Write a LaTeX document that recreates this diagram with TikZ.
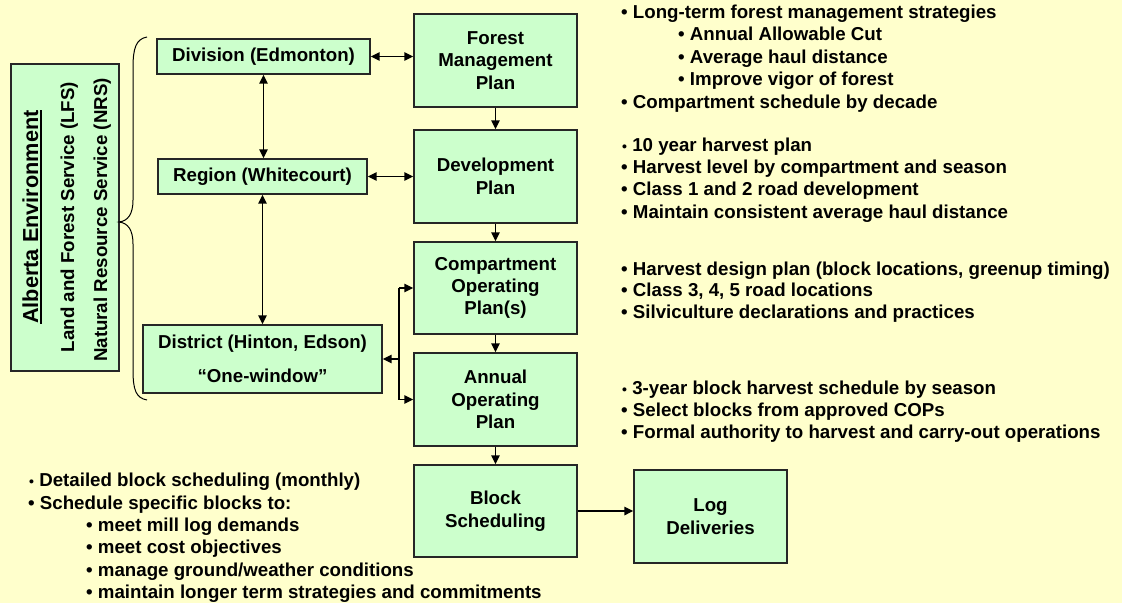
\documentclass[tikz,border=0pt]{standalone}
\usepackage{fontspec}
\setmainfont{Liberation Sans}
\usetikzlibrary{arrows.meta}
\definecolor{bgc}{HTML}{FFFFCC}
\definecolor{boxc}{HTML}{CCFFCC}
\newcommand{\smallbul}{{\fontsize{14}{14}\selectfont•}}
\begin{document}
\begin{tikzpicture}[x=1pt,y=-1pt,
  box/.style={draw=black!85, line width=1.4pt, fill=boxc, inner sep=0pt, align=center,
    font=\bfseries\fontsize{18.7}{22.4}\selectfont},
  note/.style={inner sep=0pt, anchor=base west, font=\bfseries\fontsize{18.7}{22.4}\selectfont},
  sidetext/.style={inner sep=0pt, anchor=base, rotate=90, font=\bfseries\fontsize{18.7}{22.4}\selectfont},
  tip/.tip={Triangle[length=9pt,width=8.5pt]},
  arr/.style={line width=1.5pt, -tip},
  darr/.style={line width=1.5pt, tip-tip},
]
\fill[bgc] (0,0) rectangle (1122,603);
\useasboundingbox (0,0) rectangle (1122,603);

% left side
\node[box, minimum width=108pt, minimum height=307pt] (alb) at (65,217.5) {};
\node[sidetext, font=\bfseries\fontsize{21.7}{26}\selectfont] (albt) at (38,217) {Alberta Environment};
\draw[line width=1.6pt] ([xshift=3pt]albt.base west) -- ([xshift=3pt]albt.base east);
\node[sidetext] (lfs) at (74,217) {Land and Forest Service (LFS)};
\node[sidetext] (nrs) at (107,220) {Natural Resource Service (NRS)};

\draw[line width=1pt] (147,37) .. controls (136,39) and (133,48) .. (133,68) -- (133,200)
  .. controls (133,214) and (128,221) .. (119,222)
  .. controls (128,223) and (133,230) .. (133,244) -- (133,370)
  .. controls (133,390) and (136,398) .. (147,400);

\node[box, minimum width=213pt, minimum height=35pt] (div) at (263.5,56.5) {Division (Edmonton)};
\node[box, minimum width=209pt, minimum height=35pt] (reg) at (262.5,176.5) {Region (Whitecourt)};
\node[box, minimum width=239pt, minimum height=68pt] (dist) at (262.5,359) {District (Hinton, Edson)\\[11pt]“One-window”};

% central column
\node[box, minimum width=163pt, minimum height=93pt] (fmp) at (495.5,60.5) {Forest\\Management\\Plan};
\node[box, minimum width=163pt, minimum height=93pt] (dev) at (495.5,176.5) {Development\\Plan};
\node[box, minimum width=163pt, minimum height=92pt] (cop) at (495.5,288) {Compartment\\Operating\\Plan(s)};
\node[box, minimum width=163pt, minimum height=93pt] (aop) at (495.5,399.5) {Annual\\Operating\\Plan};
\node[box, minimum width=163pt, minimum height=92pt] (blk) at (495.5,511) {Block\\Scheduling};
\node[box, minimum width=153pt, minimum height=93pt] (log) at (710.5,516.5) {Log\\Deliveries};

% connectors
\draw[darr] (div.east) -- (div.east -| fmp.west);
\draw[darr] (reg.east) -- (reg.east -| dev.west);
\draw[darr] (div.south) -- (div.south |- reg.north);
\draw[darr] (reg.south) -- (reg.south |- dist.north);
\draw[arr] (fmp.south) -- (dev.north);
\draw[arr] (dev.south) -- (cop.north);
\draw[arr] (cop.south) -- (aop.north);
\draw[arr] (aop.south) -- (blk.north);
\draw[arr] (blk.east) -- (blk.east -| log.west);
\coordinate (j) at (399,359);
\draw[arr] (j) -- (j -| dist.east);
\draw[line width=1.5pt] (j |- cop.west) -- (j |- aop.west);
\draw[arr] (j |- cop.west) -- (cop.west);
\draw[arr] (j |- aop.west) -- (aop.west);

% notes: forest management plan
\node[note] (f1) at (621,18.5) {•~Long-term forest management strategies};
\node[note] (f2) at (678,40.5) {•~Annual Allowable Cut};
\node[note] (f3) at (678,63) {•~Average haul distance};
\node[note] (f4) at (678,85.5) {•~Improve vigor of forest};
\node[note] (f5) at (621,108) {•~Compartment schedule by decade};
% development plan
\node[note] (d1) at (622,151.5) {\smallbul~10 year harvest plan};
\node[note] (d2) at (621,173.5) {•~Harvest level by compartment and season};
\node[note] (d3) at (621,195.5) {•~Class 1 and 2 road development};
\node[note] (d4) at (621,218.5) {•~Maintain consistent average haul distance};
% COP
\node[note] (c1) at (621,275.5) {•~Harvest design plan (block locations, greenup timing)};
\node[note] (c2) at (621,296.5) {•~Class 3, 4, 5 road locations};
\node[note] (c3) at (621,318.5) {•~Silviculture declarations and practices};
% AOP
\node[note] (a1) at (622,394) {\smallbul~3-year block harvest schedule by season};
\node[note] (a2) at (621,416) {•~Select blocks from approved COPs};
\node[note] (a3) at (621,438) {•~Formal authority to harvest and carry-out operations};
% block scheduling
\node[note] (b1) at (29,486.5) {\smallbul~Detailed block scheduling (monthly)};
\node[note] (b2) at (28,509.5) {•~Schedule specific blocks to:};
\node[note] (b3) at (86,531.5) {•~meet mill log demands};
\node[note] (b4) at (86,553.5) {•~meet cost objectives};
\node[note] (b5) at (86,576.5) {•~manage ground/weather conditions};
\node[note] (b6) at (86,598.5) {•~maintain longer term strategies and commitments};
\end{tikzpicture}
\end{document}
